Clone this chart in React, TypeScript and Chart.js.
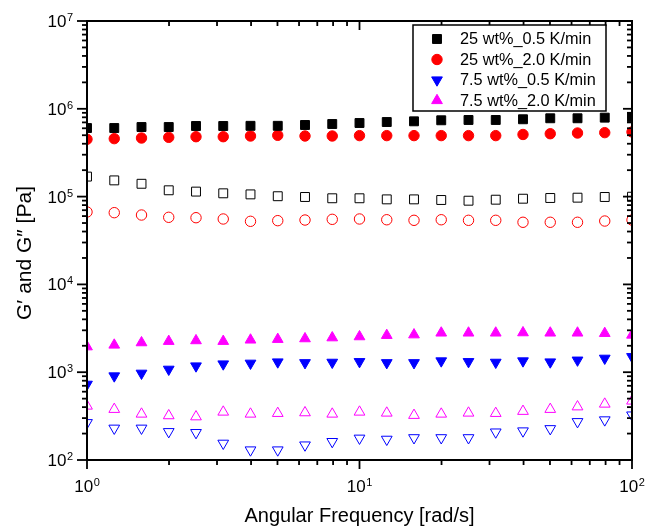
import React, { useEffect, useRef } from 'react';
import { Chart, registerables } from 'chart.js';
import { drawPoint } from 'chart.js/helpers';

Chart.register(...registerables);

const FONT = '"Liberation Sans", Arial, Helvetica, sans-serif';

// Angular frequency [rad/s]
const frequency = [1, 1.259, 1.585, 1.995, 2.512, 3.162, 3.981, 5.012, 6.31, 7.943, 10, 12.59, 15.85, 19.95, 25.12, 31.62, 39.81, 50.12, 63.1, 79.43, 100];

// G' (storage modulus, filled symbols) [Pa]
const gStorage25_05 = [6.04e5, 6.04e5, 6.2e5, 6.2e5, 6.37e5, 6.37e5, 6.4e5, 6.4e5, 6.54e5, 6.71e5, 6.89e5, 7.07e5, 7.2e5, 7.4e5, 7.46e5, 7.46e5, 7.6e5, 7.8e5, 7.8e5, 7.93e5, 8.0e5];
const gStorage25_20 = [4.5e5, 4.57e5, 4.65e5, 4.73e5, 4.81e5, 4.81e5, 4.9e5, 4.99e5, 4.9e5, 4.9e5, 4.95e5, 4.95e5, 4.95e5, 4.95e5, 4.95e5, 4.95e5, 5.1e5, 5.2e5, 5.3e5, 5.35e5, 5.45e5];
const gStorage75_05 = [728, 906, 972, 1079, 1177, 1240, 1264, 1307, 1282, 1295, 1318, 1282, 1282, 1343, 1318, 1295, 1343, 1307, 1371, 1440, 1502];
const gStorage75_20 = [1950, 2040, 2170, 2250, 2290, 2250, 2330, 2370, 2410, 2470, 2540, 2630, 2670, 2800, 2800, 2800, 2820, 2800, 2800, 2770, 2650];

// G'' (loss modulus, open symbols) [Pa]
const gLoss25_05 = [1.69e5, 1.53e5, 1.40e5, 1.18e5, 1.14e5, 1.09e5, 1.06e5, 1.01e5, 9.9e4, 9.57e4, 9.57e4, 9.3e4, 9.3e4, 9.15e4, 8.98e4, 9.22e4, 9.46e4, 9.64e4, 9.72e4, 9.9e4, 9.97e4];
const gLoss25_20 = [6.68e4, 6.56e4, 6.17e4, 5.81e4, 5.75e4, 5.56e4, 5.23e4, 5.32e4, 5.41e4, 5.51e4, 5.56e4, 5.45e4, 5.37e4, 5.45e4, 5.37e4, 5.37e4, 5.1e4, 5.1e4, 5.1e4, 5.27e4, 5.41e4];
const gLoss75_05 = [266, 230, 230, 210, 205, 155, 130, 130, 148, 162, 177, 172, 179, 179, 179, 208, 214, 227, 273, 286, 325];
const gLoss75_20 = [412, 378, 334, 320, 311, 352, 334, 340, 346, 334, 352, 343, 323, 334, 343, 340, 359, 378, 404, 434, 470];

const seriesLabels = ['25 wt%_0.5 K/min', '25 wt%_2.0 K/min', '7.5 wt%_0.5 K/min', '7.5 wt%_2.0 K/min'];
const seriesColors = ['#000000', '#ff0000', '#0000ff', '#ff00ff'];
const seriesStyles = ['rect', 'circle', 'triangle', 'triangle'];
const seriesRotations = [0, 0, 180, 0];
const seriesRadii = [6.3, 5.2, 6.2, 6.2];

const xMajorTicks = [1, 10, 100];
const xMinorTicks = [2, 3, 4, 5, 6, 7, 8, 9, 20, 30, 40, 50, 60, 70, 80, 90];
const yMajorTicks = [1e2, 1e3, 1e4, 1e5, 1e6, 1e7];
const yMinorMantissas = [2, 3, 4, 5, 6, 7, 8, 9];

const xTitle = 'Angular Frequency [rad/s]';
const yTitle = 'G\u2032 and G\u2033 [Pa]';

const storageSeries = [gStorage25_05, gStorage25_20, gStorage75_05, gStorage75_20];
const lossSeries = [gLoss25_05, gLoss25_20, gLoss75_05, gLoss75_20];

function toPoints(values: number[]) {
  return frequency.map((f, i) => ({ x: f, y: values[i] }));
}

function drawPower(ctx: CanvasRenderingContext2D, exp: string, x: number, y: number, align: 'center' | 'right') {
  ctx.font = `17px ${FONT}`;
  const wb = ctx.measureText('10').width;
  ctx.font = `11px ${FONT}`;
  const we = ctx.measureText(exp).width;
  const gap = 0.5;
  const total = wb + gap + we;
  const start = align === 'center' ? x - total / 2 : x - total;
  ctx.textAlign = 'left';
  ctx.textBaseline = 'alphabetic';
  ctx.font = `17px ${FONT}`;
  ctx.fillText('10', start, y);
  ctx.font = `11px ${FONT}`;
  ctx.fillText(exp, start + wb + gap, y - 6);
}

const framePlugin = {
  id: 'originFrame',
  afterDraw(chart: any) {
    const ctx: CanvasRenderingContext2D = chart.ctx;
    const { left, right, top, bottom } = chart.chartArea;
    const xs = chart.scales.x;
    const ys = chart.scales.y;
    ctx.save();
    ctx.strokeStyle = '#000';
    ctx.fillStyle = '#000';
    ctx.lineWidth = 2;
    ctx.strokeRect(left, top, right - left, bottom - top);

    ctx.lineWidth = 1.8;
    const line = (x1: number, y1: number, x2: number, y2: number) => {
      ctx.beginPath();
      ctx.moveTo(x1, y1);
      ctx.lineTo(x2, y2);
      ctx.stroke();
    };
    // x ticks: bottom outward, top inward
    xMinorTicks.forEach((v) => {
      const px = xs.getPixelForValue(v);
      line(px, bottom, px, bottom + 5);
      line(px, top, px, top + 5);
    });
    xMajorTicks.forEach((v) => {
      const px = xs.getPixelForValue(v);
      line(px, bottom, px, bottom + 9);
      line(px, top, px, top + 9);
    });
    // y ticks: left outward, right inward
    yMajorTicks.forEach((m, i) => {
      if (i < yMajorTicks.length - 1) {
        yMinorMantissas.forEach((k) => {
          const py = ys.getPixelForValue(k * m);
          line(left - 5, py, left, py);
          line(right - 5, py, right, py);
        });
      }
      const py = ys.getPixelForValue(m);
      line(left - 10, py, left, py);
      line(right - 9, py, right, py);
    });

    // tick labels
    xMajorTicks.forEach((v) => {
      const px = xs.getPixelForValue(v);
      drawPower(ctx, String(Math.round(Math.log10(v))), px, bottom + 32, 'center');
    });
    yMajorTicks.forEach((v) => {
      const py = ys.getPixelForValue(v);
      drawPower(ctx, String(Math.round(Math.log10(v))), left - 14, py + 6, 'right');
    });

    // axis titles
    ctx.font = `20px ${FONT}`;
    ctx.textAlign = 'center';
    ctx.textBaseline = 'alphabetic';
    ctx.fillText(xTitle, (left + right) / 2, 522);
    ctx.save();
    ctx.translate(31, 253);
    ctx.rotate(-Math.PI / 2);
    ctx.font = `21px ${FONT}`;
    ctx.fillText(yTitle, 0, 0);
    ctx.restore();

    // legend
    const lx = 413, ly = 25, lw = 193, lh = 86;
    ctx.fillStyle = '#fff';
    ctx.fillRect(lx, ly, lw, lh);
    ctx.strokeStyle = '#000';
    ctx.lineWidth = 1.5;
    ctx.strokeRect(lx, ly, lw, lh);
    const rows = [39, 59.5, 80, 100.5];
    seriesLabels.forEach((label, i) => {
      ctx.fillStyle = seriesColors[i];
      ctx.strokeStyle = seriesColors[i];
      ctx.lineWidth = 1;
      drawPoint(ctx, {
        pointStyle: seriesStyles[i] as any,
        radius: seriesRadii[i],
        rotation: seriesRotations[i],
        borderWidth: 1,
      } as any, 437, rows[i]);
      ctx.fillStyle = '#000';
      ctx.font = `16.3px ${FONT}`;
      ctx.textAlign = 'left';
      ctx.textBaseline = 'middle';
      ctx.fillText(label, 460, rows[i] + 1);
    });
    ctx.restore();
  },
};

export default function App() {
  const ref = useRef<HTMLCanvasElement>(null);
  useEffect(() => {
    if (!ref.current) return;
    const datasets: any[] = [];
    storageSeries.forEach((vals, i) => {
      datasets.push({
        label: seriesLabels[i] + " (G')",
        data: toPoints(vals),
        pointStyle: seriesStyles[i],
        pointRotation: seriesRotations[i],
        pointRadius: seriesRadii[i],
        pointHoverRadius: seriesRadii[i],
        backgroundColor: seriesColors[i],
        borderColor: seriesColors[i],
        pointBorderWidth: 1,
        showLine: false,
        clip: 0,
      });
    });
    lossSeries.forEach((vals, i) => {
      datasets.push({
        label: seriesLabels[i] + " (G'')",
        data: toPoints(vals),
        pointStyle: seriesStyles[i],
        pointRotation: seriesRotations[i],
        pointRadius: seriesRadii[i],
        pointHoverRadius: seriesRadii[i],
        backgroundColor: 'rgba(0,0,0,0)',
        borderColor: seriesColors[i],
        pointBorderWidth: 1,
        showLine: false,
        clip: 0,
      });
    });
    const chart = new Chart(ref.current, {
      type: 'scatter',
      data: { datasets },
      options: {
        responsive: false,
        animation: false,
        devicePixelRatio: 1,
        layout: { padding: { left: 87, right: 24, top: 21, bottom: 69 } },
        plugins: { legend: { display: false }, tooltip: { enabled: false } },
        scales: {
          x: {
            type: 'logarithmic',
            min: 1,
            max: 100,
            ticks: { display: false },
            grid: { display: false, drawTicks: false },
            border: { display: false },
          },
          y: {
            type: 'logarithmic',
            min: 100,
            max: 1e7,
            ticks: { display: false },
            grid: { display: false, drawTicks: false },
            border: { display: false },
          },
        },
      },
      plugins: [framePlugin],
    } as any);
    return () => chart.destroy();
  }, []);
  return (
    <div style={{ position: 'absolute', left: 0, top: 0, width: 656, height: 529, background: '#fff' }}>
      <canvas ref={ref} width={656} height={529} style={{ display: 'block', width: 656, height: 529 }} />
    </div>
  );
}
